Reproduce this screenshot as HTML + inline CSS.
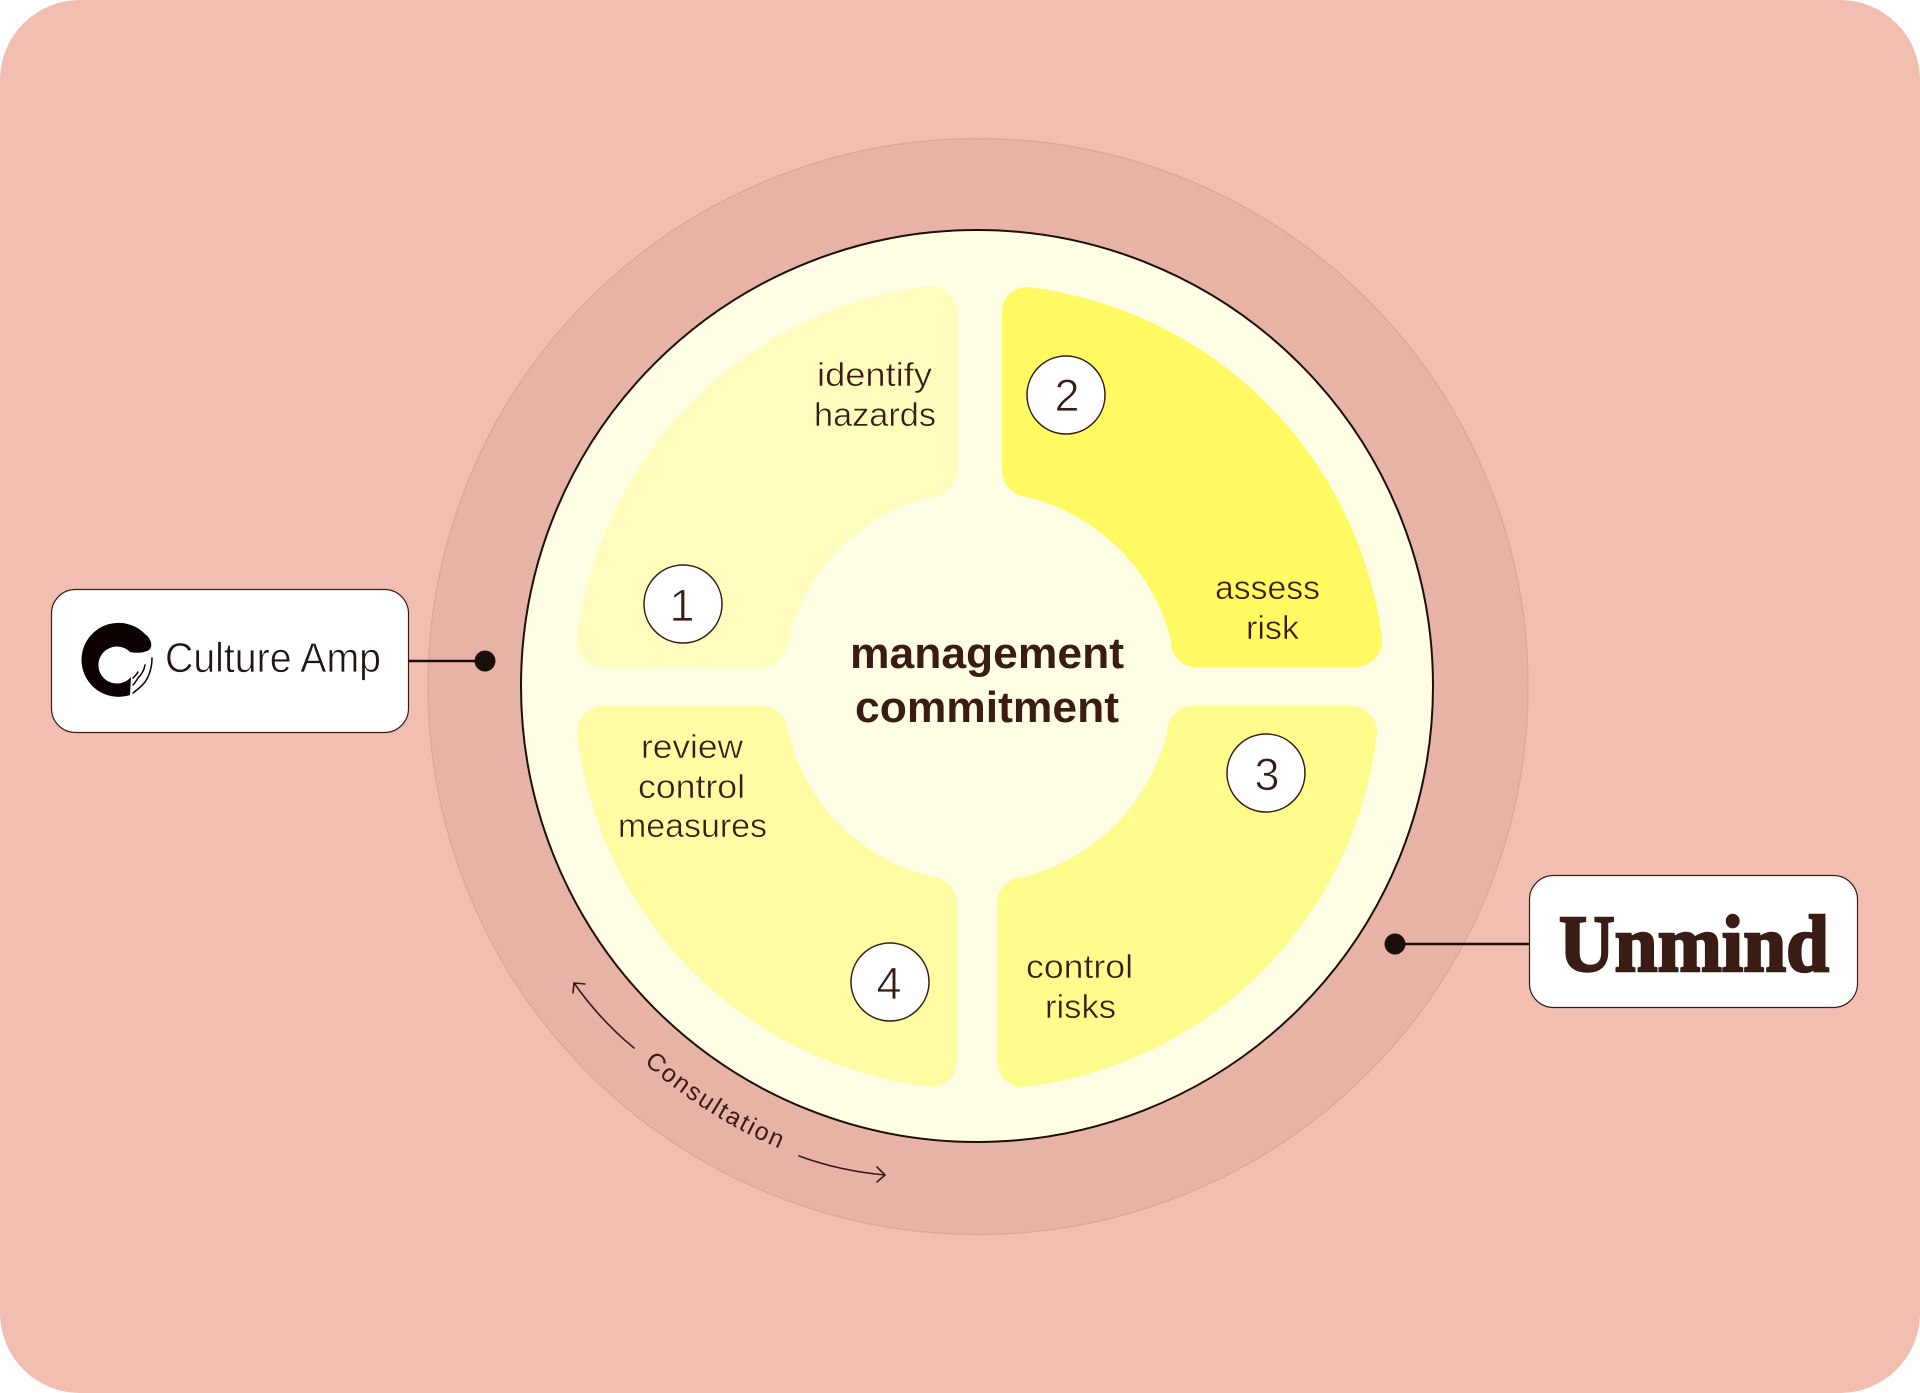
<!DOCTYPE html>
<html>
<head>
<meta charset="utf-8">
<style>
html,body{margin:0;padding:0;background:#fff;width:1920px;height:1393px;overflow:hidden}
svg{display:block}
text{font-family:"Liberation Sans",sans-serif;fill:#3a1c14}
.lbl{font-size:33px;stroke-width:.5px}
.num{font-size:45px;text-anchor:middle;stroke:#fff;stroke-width:.8px}
.big{font-size:44px;font-weight:bold}
</style>
</head>
<body>
<svg xmlns="http://www.w3.org/2000/svg" width="1920" height="1393" viewBox="0 0 1920 1393">
<rect x="0" y="0" width="1920" height="1393" rx="80" ry="80" fill="#f1beb1"/>
<ellipse cx="978" cy="686.5" rx="550" ry="548" fill="#e6b3a6" stroke="#d8a89a" stroke-width="1.2"/>
<circle cx="977" cy="686" r="456" fill="#fffee4" stroke="#1c0e0a" stroke-width="2"/>

<path d="M602 667A26 26 0 0 1 577 640A403 403 0 0 1 930 286A26 26 0 0 1 957 312L957 470A27 27 0 0 1 930 497A195 195 0 0 0 788 640A27 27 0 0 1 760 667Z" fill="#fffcbd"/>
<path d="M1002 310A25 25 0 0 1 1027 287A406 406 0 0 1 1382 638A27 27 0 0 1 1357 667L1193 667A26 26 0 0 1 1171 640A197 197 0 0 0 1027 497A27 27 0 0 1 1002 470Z" fill="#fff962"/>
<path d="M1193 706L1352 706A26 26 0 0 1 1377 733A403 403 0 0 1 1023 1087A26 26 0 0 1 997 1062L997 903A27 27 0 0 1 1023 877A197 197 0 0 0 1167 733A26 26 0 0 1 1193 706Z" fill="#fffb8c"/>
<path d="M602 706L760 706A27 27 0 0 1 788 732A195 195 0 0 0 933 877A27 27 0 0 1 957 903L957 1062A26 26 0 0 1 933 1087A403 403 0 0 1 577 733A26 26 0 0 1 602 706Z" fill="#fffca3"/>

<g fill="#fff" stroke="#3a1c14" stroke-width="1.5">
<circle cx="683" cy="604" r="39"/>
<circle cx="1066" cy="395" r="39"/>
<circle cx="1266" cy="773" r="39"/>
<circle cx="890" cy="982" r="39"/>
</g>
<text class="num" x="682" y="621">1</text>
<text class="num" x="1067" y="411">2</text>
<text class="num" x="1267" y="790">3</text>
<text class="num" x="889" y="999">4</text>

<text class="lbl" stroke="#fffcbd" x="817" y="386" textLength="115" lengthAdjust="spacingAndGlyphs">identify</text>
<text class="lbl" stroke="#fffcbd" x="814" y="426" textLength="122" lengthAdjust="spacingAndGlyphs">hazards</text>
<text class="lbl" stroke="#fff962" x="1215" y="599" textLength="105" lengthAdjust="spacingAndGlyphs">assess</text>
<text class="lbl" stroke="#fff962" x="1246" y="639" textLength="53" lengthAdjust="spacingAndGlyphs">risk</text>
<text class="lbl" stroke="#fffca3" x="641" y="758" textLength="102" lengthAdjust="spacingAndGlyphs">review</text>
<text class="lbl" stroke="#fffca3" x="638" y="798" textLength="107" lengthAdjust="spacingAndGlyphs">control</text>
<text class="lbl" stroke="#fffca3" x="618" y="837" textLength="149" lengthAdjust="spacingAndGlyphs">measures</text>
<text class="lbl" stroke="#fffb8c" x="1026" y="978" textLength="107" lengthAdjust="spacingAndGlyphs">control</text>
<text class="lbl" stroke="#fffb8c" x="1045" y="1018" textLength="71" lengthAdjust="spacingAndGlyphs">risks</text>

<text class="big" x="850" y="668" textLength="274" lengthAdjust="spacingAndGlyphs">management</text>
<text class="big" x="855" y="722" textLength="264" lengthAdjust="spacingAndGlyphs">commitment</text>

<defs><path id="arc" d="M621.3 1041.7A503 503 0 0 0 889.7 1181.4"/></defs>
<text font-size="25" letter-spacing="2"><textPath href="#arc" startOffset="31">Consultation</textPath></text>

<g fill="none" stroke="#3a1c14" stroke-width="1.6" stroke-linecap="round" stroke-linejoin="round">
<path d="M634 1048Q600 1020 574 983"/>
<path d="M585 984L574 983L573 993"/>
<path d="M799 1156Q840 1171 885 1175"/>
<path d="M877 1167L885 1175L877 1182"/>
</g>

<line x1="409" y1="661" x2="485" y2="661" stroke="#1c0e0a" stroke-width="2.5"/>
<circle cx="485" cy="661" r="10.5" fill="#1c0e0a"/>
<line x1="1395" y1="944" x2="1530" y2="944" stroke="#1c0e0a" stroke-width="2.5"/>
<circle cx="1395" cy="944" r="10.5" fill="#1c0e0a"/>

<rect x="51.5" y="589.5" width="357" height="143" rx="24" fill="#fff" stroke="#3a1c14" stroke-width="1.2"/>
<rect x="1529.5" y="875.5" width="328" height="132" rx="24" fill="#fff" stroke="#3a1c14" stroke-width="1.2"/>

<path d="M147 651C153 649 153 640 145 634A37 37 0 1 0 130 695L131 677A18.5 18.5 0 1 1 130 652Q140 654 147 651Z" fill="#0c0202"/>
<g fill="none" stroke="#0c0202" stroke-width="1.5" stroke-linecap="round">
<path d="M152 658C152 668 149 676 145 682C141 687 137 690 133 693"/>
<path d="M145 665C144 671 141 675 138 678C136 681 135 683 133 685"/>
<path d="M138 672C137 674 135 676 133 678"/>
</g>
<text x="165" y="672" font-size="42" textLength="216" lengthAdjust="spacingAndGlyphs" style="fill:#231512;stroke:#fff;stroke-width:.7px">Culture Amp</text>

<text x="1559" y="971" font-size="80" font-weight="bold" textLength="270" lengthAdjust="spacingAndGlyphs" style="font-family:'Liberation Serif',serif;stroke:#3a1c14;stroke-width:2.5">Unmind</text>
</svg>
</body>
</html>
